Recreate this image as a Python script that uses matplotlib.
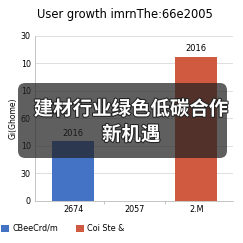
import numpy as np
import matplotlib.pyplot as plt
from matplotlib.patches import FancyBboxPatch
import matplotlib.patheffects as pe

plt.rcParams['font.family'] = ['DejaVu Sans', 'Noto Sans CJK SC']

# data
categories = ['2674', '2057', '2.M']
series_names = ['CBeeCrd/m', 'Coi Ste &']
blue_values = [2.18, 0, 0]
red_values = [0, 0, 5.25]
bar_labels = ['2016', '2016']
ytick_vals = [0, 1, 2, 3, 4, 5, 6]
ytick_labels = ['0', '30', '10', '60', '10', '10', '30']

blue = '#4472C4'
red = '#CF5A3F'

fig = plt.figure(figsize=(2.43, 2.43), dpi=100, facecolor='w')
ax = fig.add_axes([0.144, 0.173, 0.815, 0.679])

x = np.arange(len(categories))
width = 0.68
b1 = ax.bar(x[0], blue_values[0], width, color=blue, label=series_names[0], zorder=3)
b2 = ax.bar(x[2], red_values[2], width, color=red, label=series_names[1], zorder=3)
ax.text(x[0], blue_values[0] + 0.12, bar_labels[0], ha='center', va='bottom', fontsize=6)
ax.text(x[2], red_values[2] + 0.12, bar_labels[1], ha='center', va='bottom', fontsize=6)

ax.set_xlim(-0.62, 2.6)
ax.set_ylim(0, 6)
ax.set_yticks(ytick_vals)
ax.set_yticklabels(ytick_labels, fontsize=5.8)
ax.set_xticks(x)
ax.set_xticklabels(categories, fontsize=5.8)
ax.tick_params(axis='both', length=0, pad=3)
ax.set_xticks([0.5, 1.5], minor=True)
ax.tick_params(axis='x', which='minor', length=2, color='#bbbbbb')
ax.grid(axis='y', color='#d9d9d9', linewidth=0.6, zorder=0)
for s in ['top', 'right']:
    ax.spines[s].set_visible(False)
ax.spines['left'].set_color('#bbbbbb')
ax.spines['bottom'].set_color('#bbbbbb')
ax.spines['left'].set_linewidth(0.6)
ax.spines['bottom'].set_linewidth(0.6)
ax.set_ylabel('Gi(Ghome)', fontsize=5.5, labelpad=2)

fig.text(0.515, 0.94, 'User growth imrnThe:66e2005', ha='center', va='center', fontsize=8.3)

fig.legend(handles=[b1, b2], labels=series_names, loc='center left',
           bbox_to_anchor=(0.005, 0.06), ncol=2, frameon=False, fontsize=5.8,
           handlelength=1.0, handleheight=1.0, handletextpad=0.4, columnspacing=2.2,
           borderaxespad=0, borderpad=0)

# overlay banner
box = FancyBboxPatch((18 / 243, 1 - 158 / 243), (227 - 18) / 243, (158 - 83) / 243,
                     boxstyle='round,pad=0,rounding_size=0.03', transform=fig.transFigure,
                     facecolor='#222222', alpha=0.72, edgecolor='none', zorder=10)
fig.patches.append(box)
fig.text(0.54, 1 - 122 / 243, '建材行业绿色低碳合作\n新机遇', ha='center', va='center',
         fontsize=14, fontweight='bold', color='white', linespacing=1.4,
         family=['Noto Sans CJK SC', 'DejaVu Sans'], zorder=11,
         path_effects=[pe.withStroke(linewidth=1.5, foreground='#222222')])

fig.savefig('out.png', dpi=100)
